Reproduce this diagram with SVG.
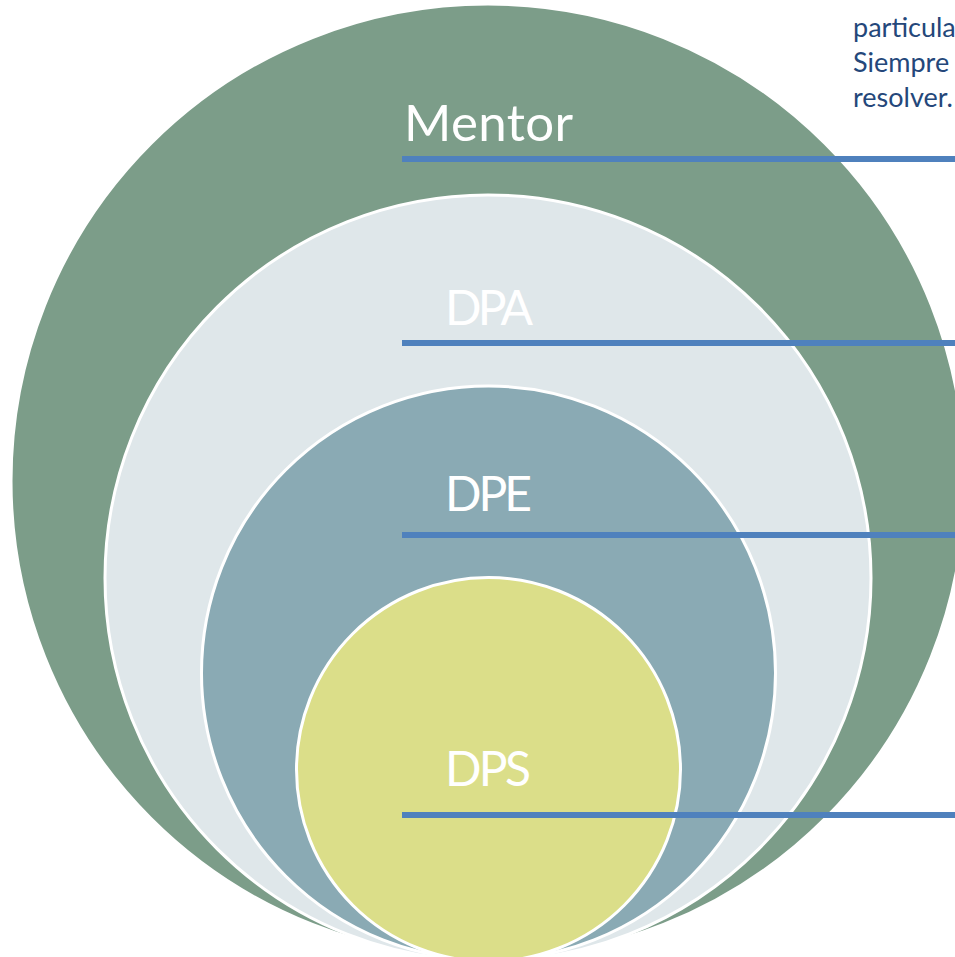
<svg xmlns="http://www.w3.org/2000/svg" width="955" height="957" viewBox="0 0 955 957">
<style>
.ring{stroke:#FFFFFF;stroke-width:3}
.lbl{font-family:Lato,"Open Sans",sans-serif;font-size:48px;fill:#FFFFFF}
.note{font-family:Lato,"Open Sans",sans-serif;font-size:27px;fill:#24477A}
.bar{stroke:#4F81BD;stroke-width:6;fill:none}
</style>
<rect width="955" height="957" fill="#FFFFFF"/>
<g id="mentor">
<circle class="ring" cx="488" cy="481" r="477" fill="#7C9D89"/>
<text class="lbl" x="404" y="141" style="font-size:51px" textLength="169">Mentor</text>
</g>
<g id="dpa">
<circle class="ring" cx="488" cy="578" r="383" fill="#DFE7EA"/>
<text class="lbl" x="445" y="325" textLength="88">DPA</text>
</g>
<g id="dpe">
<circle class="ring" cx="488.5" cy="673" r="287" fill="#8AAAB4"/>
<text class="lbl" x="445" y="511" textLength="87">DPE</text>
</g>
<g id="dps">
<circle class="ring" cx="488.5" cy="769.5" r="192" fill="#DBDE89"/>
<text class="lbl" x="445" y="786" textLength="86">DPS</text>
</g>
<g id="connectors">
<line class="bar" x1="402" y1="159" x2="955" y2="159"/>
<line class="bar" x1="402" y1="343" x2="955" y2="343"/>
<line class="bar" x1="402" y1="535" x2="955" y2="535"/>
<line class="bar" x1="402" y1="815" x2="955" y2="815"/>
</g>
<g id="note">
<text class="note" x="853" y="37">particula</text>
<text class="note" x="853" y="72">Siempre</text>
<text class="note" x="853" y="107">resolver.</text>
</g>
</svg>
